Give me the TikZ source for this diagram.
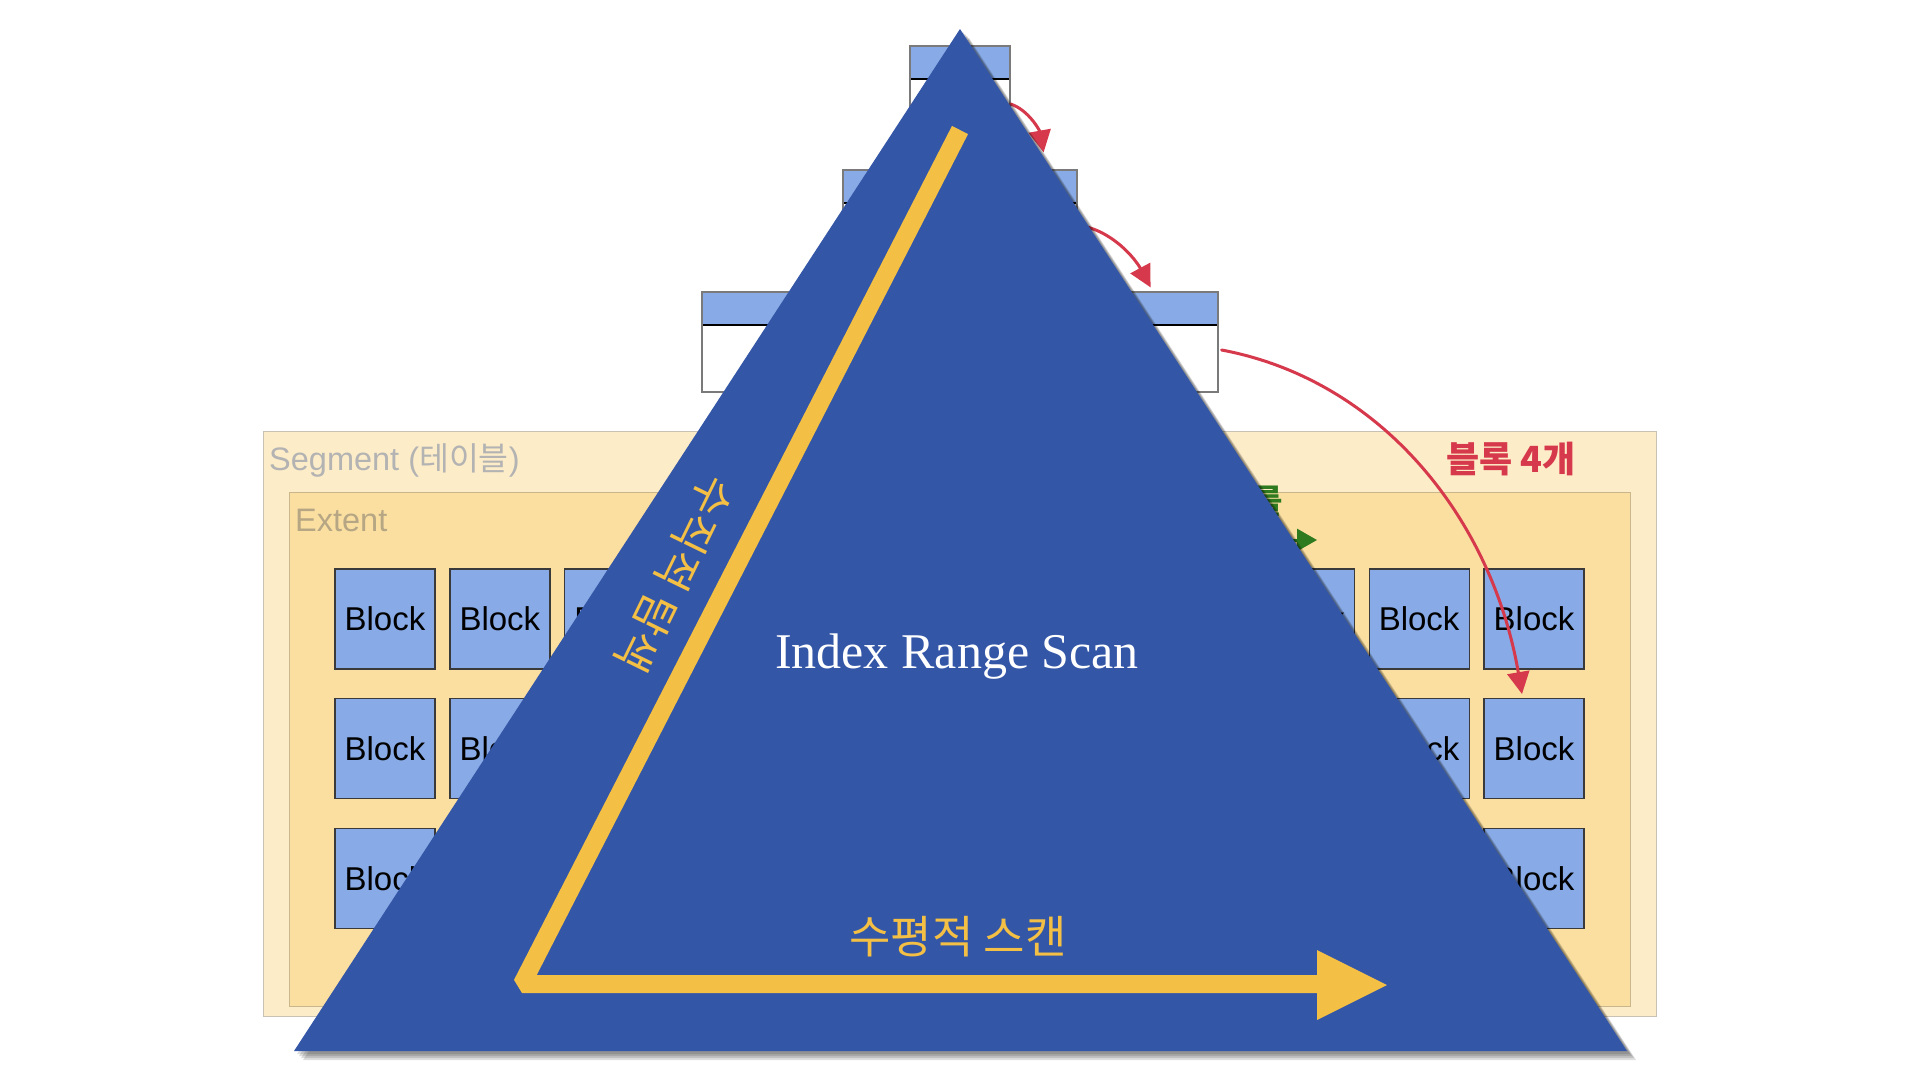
\documentclass[tikz,border=0pt]{standalone}
\usepackage{fontspec}
\setmainfont{Liberation Sans}
\newfontfamily\kr{Noto Sans CJK KR}
\newfontfamily\scanserif{Liberation Serif}
\usetikzlibrary{arrows.meta}

\definecolor{segfill}{HTML}{FDECC8}
\definecolor{segline}{HTML}{C9C2B4}
\definecolor{extfill}{HTML}{FADFA1}
\definecolor{extline}{HTML}{C8B68C}
\definecolor{blkfill}{HTML}{88AAE6}
\definecolor{blkline}{HTML}{3A3A3A}
\definecolor{boxline}{HTML}{7A7A7A}
\definecolor{triblue}{HTML}{3356A7}
\definecolor{scanyellow}{HTML}{F3BF44}
\definecolor{hopred}{HTML}{D6394C}
\definecolor{nextgreen}{HTML}{2E7A1E}
\definecolor{lblgray}{HTML}{B3B3B3}
\definecolor{extgray}{HTML}{B6A684}

\tikzset{
  segbox/.style={draw=segline, line width=1.2pt, fill=segfill, inner sep=0pt, anchor=north west},
  extbox/.style={draw=extline, line width=1.2pt, fill=extfill, inner sep=0pt, anchor=north west},
  blk/.style={draw=blkline, line width=1.2pt, fill=blkfill, minimum width=100pt,
    minimum height=100pt, inner sep=0pt, font=\fontsize{33}{37}\selectfont},
  idxbox/.style={draw=boxline, line width=1.2pt, fill=white, minimum height=100pt, inner sep=0pt,
    path picture={
      \fill[blkfill] (path picture bounding box.north west)
        rectangle ([yshift=-33pt]path picture bounding box.east |- path picture bounding box.north);
      \draw[black, line width=1.2pt] ([yshift=-33pt]path picture bounding box.north west)
        -- ([yshift=-33pt]path picture bounding box.north east);
    }},
  hop/.style={draw=hopred, line width=3pt, line cap=round, -{Triangle[length=22pt,width=22pt]}},
  nextgo/.style={draw=nextgreen, line width=3pt, -{Triangle[length=20pt,width=22pt]}},
  lbltext/.style={inner sep=0pt, anchor=base west, font=\fontsize{32.5}{38}\selectfont},
}

\begin{document}
\begin{tikzpicture}[x=1pt,y=-1pt]
  \useasboundingbox (0,0) rectangle (1920,1080);
  \fill[white] (0,0) rectangle (1920,1080);

  % segment and extent
  \node[segbox, minimum width=1393pt, minimum height=585pt] (seg) at (263,431) {};
  \node[extbox, minimum width=1341pt, minimum height=514pt] (ext) at (289,492) {};
  \node[lbltext, text=lblgray] (seglbl) at (269,470) {Segment ({\kr 테이블})};
  \node[lbltext, text=extgray] (extlbl) at (295,531) {Extent};

  % blocks
  \foreach \row in {1,2,3}
    \foreach \col in {0,...,10}
      \node[blk] (b-\row-\col) at ({385+\col*114.9},{619+(\row-1)*129.6}) {Block};

  % index boxes
  \node[idxbox, minimum width=100pt] (root) at (960,96) {};
  \node[idxbox, minimum width=234pt] (branch) at (960,220) {};
  \node[idxbox, minimum width=516pt] (leaf) at (960,342) {};

  % red hops
  \draw[hop] ([yshift=-8pt]root.east) .. controls +(18,6) and +(-4,-22) .. ([xshift=-34pt,yshift=17pt]branch.north east);
  \draw[hop] ([yshift=-5pt]branch.east) .. controls +(35,5) and +(-15,-28) .. ([xshift=-68pt,yshift=4pt]leaf.north east);
  \draw[hop] ([xshift=3pt,yshift=-8pt]leaf.east) .. controls +(160,30) and +(-30,-175) .. ([xshift=-12pt,yshift=4pt]b-2-10.north);
  \node[text=hopred, font=\kr\bfseries\fontsize{36}{42}\selectfont] (hoplbl) at (1511,459) {블록 4개};

  % green next
  \node[text=nextgreen, font=\kr\bfseries\fontsize{33}{38}\selectfont] (nextlbl) at (1268,501) {를};
  \coordinate (nextstart) at (1230,540);
  \coordinate (nextend) at (1317,540);
  \draw[nextgo] (nextstart) -- (nextend);

  % triangle with shadow
  \coordinate (apex) at (960,29);
  \coordinate (tl) at (294,1051);
  \coordinate (tr) at (1627,1051);
  \foreach \s in {3,5,7,9}
    \fill[black, opacity=0.13] ([shift={(\s,\s)}]apex) -- ([shift={(\s,\s)}]tl) -- ([shift={(\s,\s)}]tr) -- cycle;
  \fill[triblue] (apex) -- (tl) -- (tr) -- cycle;

  % scan path
  \coordinate (vtop) at (960,130);
  \coordinate (vbot) at (522,984);
  \coordinate (hend) at (1320,984);
  \draw[scanyellow, line width=18pt, line join=bevel] (vtop) -- (vbot) -- (hend);
  \fill[scanyellow] (1317,950) -- (1387,985) -- (1317,1020) -- cycle;

  % texts
  \node[text=white, anchor=base, font=\scanserif\fontsize{50}{56}\selectfont] (title) at (957,668) {Index Range Scan};
  \node[text=scanyellow, font=\kr\fontsize{45}{50}\selectfont] (hlbl) at (958,937) {수평적 스캔};
  \node[text=scanyellow, font=\kr\fontsize{44}{50}\selectfont, rotate=-116] (vlbl) at (675,574) {수직적 탐색};
\end{tikzpicture}
\end{document}
